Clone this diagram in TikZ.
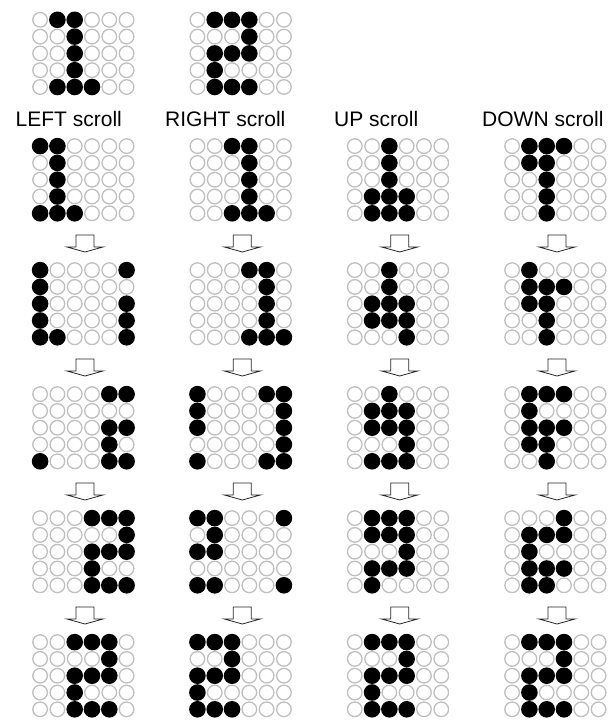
\documentclass[tikz,border=0pt]{standalone}
\usepackage{fontspec}
\setmainfont{Liberation Sans}
\newcommand{\ledpx}{17.3}
\newcommand{\ledpy}{16.8}
\newcommand{\colstep}{157.33}
\tikzset{
  ledoff/.style    = {circle, draw=gray!50, line width=1.3pt, minimum size=14.6pt, inner sep=0pt}, % dark LED
  ledon/.style     = {circle, fill=black, minimum size=16.6pt, inner sep=0pt},                     % lit LED
  scrollarr/.style = {draw=black!85, line width=0.8pt, fill=white, line join=miter},
  scrolllabel/.style = {anchor=base west, inner sep=0pt, font=\fontsize{21}{25}\selectfont},
}
% #1 name, #2 left x, #3 top y, #4 rows (top to bottom)
\newcommand{\ledgrid}[4]{%
  \foreach \lrow [count=\r] in {#4} {%
    \foreach \lb [count=\c] in \lrow {%
      \ifnum\lb=1
        \node[ledon] (#1-\r-\c) at ({#2 + 8.1 + (\c-1)*\ledpx}, {#3 + 8.1 + (\r-1)*\ledpy}) {};%
      \else
        \node[ledoff] (#1-\r-\c) at ({#2 + 8.1 + (\c-1)*\ledpx}, {#3 + 8.1 + (\r-1)*\ledpy}) {};%
      \fi
    }%
  }%
}
% #1 centre x, #2 top y
\newcommand{\scrollarrow}[2]{%
  \draw[scrollarr] ({#1-9},#2) -- ({#1+9},#2) -- ({#1+9},{#2+12}) -- ({#1+18},{#2+12})
    -- (#1,{#2+17}) -- ({#1-18},{#2+12}) -- ({#1-9},{#2+12}) -- cycle;%
}

\begin{document}
\begin{tikzpicture}[x=1pt, y=-1pt]
  \useasboundingbox (0,0) rectangle (608,724);
  % the two characters
  \ledgrid{one}{32}{11.7}{{0,1,1,0,0,0},{0,0,1,0,0,0},{0,0,1,0,0,0},{0,0,1,0,0,0},{0,1,1,1,0,0}}
  \ledgrid{two}{189.33}{11.7}{{0,1,1,1,0,0},{0,0,0,1,0,0},{0,1,1,1,0,0},{0,1,0,0,0,0},{0,1,1,1,0,0}}
  % captions
  \node[scrolllabel] (lab-left)  at (15.5,126) {LEFT scroll};
  \node[scrolllabel] (lab-right) at (165,126)  {RIGHT scroll};
  \node[scrolllabel] (lab-up)    at (334,126)  {UP scroll};
  \node[scrolllabel] (lab-down)  at (482,126)  {DOWN scroll};
  % LEFT scroll
  \ledgrid{L1}{32}{138}{{1,1,0,0,0,0},{0,1,0,0,0,0},{0,1,0,0,0,0},{0,1,0,0,0,0},{1,1,1,0,0,0}}
  \ledgrid{L2}{32}{262}{{1,0,0,0,0,1},{1,0,0,0,0,0},{1,0,0,0,0,1},{1,0,0,0,0,1},{1,1,0,0,0,1}}
  \ledgrid{L3}{32}{386}{{0,0,0,0,1,1},{0,0,0,0,0,0},{0,0,0,0,1,1},{0,0,0,0,1,0},{1,0,0,0,1,1}}
  \ledgrid{L4}{32}{510}{{0,0,0,1,1,1},{0,0,0,0,0,1},{0,0,0,1,1,1},{0,0,0,1,0,0},{0,0,0,1,1,1}}
  \ledgrid{L5}{32}{634}{{0,0,1,1,1,0},{0,0,0,0,1,0},{0,0,1,1,1,0},{0,0,1,0,0,0},{0,0,1,1,1,0}}
  % RIGHT scroll
  \ledgrid{R1}{189.33}{138}{{0,0,1,1,0,0},{0,0,0,1,0,0},{0,0,0,1,0,0},{0,0,0,1,0,0},{0,0,1,1,1,0}}
  \ledgrid{R2}{189.33}{262}{{0,0,0,1,1,0},{0,0,0,0,1,0},{0,0,0,0,1,0},{0,0,0,0,1,0},{0,0,0,1,1,1}}
  \ledgrid{R3}{189.33}{386}{{1,0,0,0,1,1},{1,0,0,0,0,1},{1,0,0,0,0,1},{0,0,0,0,0,1},{1,0,0,0,1,1}}
  \ledgrid{R4}{189.33}{510}{{1,1,0,0,0,1},{0,1,0,0,0,0},{1,1,0,0,0,0},{0,0,0,0,0,0},{1,1,0,0,0,1}}
  \ledgrid{R5}{189.33}{634}{{1,1,1,0,0,0},{0,0,1,0,0,0},{1,1,1,0,0,0},{1,0,0,0,0,0},{1,1,1,0,0,0}}
  % UP scroll
  \ledgrid{U1}{346.67}{138}{{0,0,1,0,0,0},{0,0,1,0,0,0},{0,0,1,0,0,0},{0,1,1,1,0,0},{0,1,1,1,0,0}}
  \ledgrid{U2}{346.67}{262}{{0,0,1,0,0,0},{0,0,1,0,0,0},{0,1,1,1,0,0},{0,1,1,1,0,0},{0,0,0,1,0,0}}
  \ledgrid{U3}{346.67}{386}{{0,0,1,0,0,0},{0,1,1,1,0,0},{0,1,1,1,0,0},{0,0,0,1,0,0},{0,1,1,1,0,0}}
  \ledgrid{U4}{346.67}{510}{{0,1,1,1,0,0},{0,1,1,1,0,0},{0,0,0,1,0,0},{0,1,1,1,0,0},{0,1,0,0,0,0}}
  \ledgrid{U5}{346.67}{634}{{0,1,1,1,0,0},{0,0,0,1,0,0},{0,1,1,1,0,0},{0,1,0,0,0,0},{0,1,1,1,0,0}}
  % DOWN scroll
  \ledgrid{D1}{504}{138}{{0,1,1,1,0,0},{0,1,1,0,0,0},{0,0,1,0,0,0},{0,0,1,0,0,0},{0,0,1,0,0,0}}
  \ledgrid{D2}{504}{262}{{0,1,0,0,0,0},{0,1,1,1,0,0},{0,1,1,0,0,0},{0,0,1,0,0,0},{0,0,1,0,0,0}}
  \ledgrid{D3}{504}{386}{{0,1,1,1,0,0},{0,1,0,0,0,0},{0,1,1,1,0,0},{0,1,1,0,0,0},{0,0,1,0,0,0}}
  \ledgrid{D4}{504}{510}{{0,0,0,1,0,0},{0,1,1,1,0,0},{0,1,0,0,0,0},{0,1,1,1,0,0},{0,1,1,0,0,0}}
  \ledgrid{D5}{504}{634}{{0,1,1,1,0,0},{0,0,0,1,0,0},{0,1,1,1,0,0},{0,1,0,0,0,0},{0,1,1,1,0,0}}
  % arrows between the steps
  \foreach \k in {0,...,3} {
    \foreach \ay in {235,359,483,607} {
      \scrollarrow{32 + 53 + \k*\colstep}{\ay}
    }
  }
\end{tikzpicture}
\end{document}
